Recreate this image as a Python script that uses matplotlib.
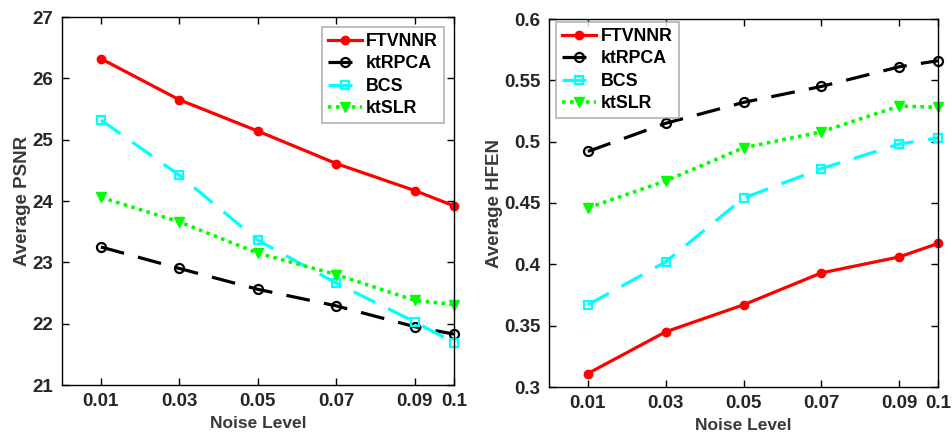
import matplotlib
matplotlib.use("Agg")
import matplotlib.pyplot as plt

plt.rcParams['font.family'] = ['Liberation Sans', 'DejaVu Sans']
plt.rcParams['font.weight'] = 'bold'

noise = [0.01, 0.03, 0.05, 0.07, 0.09, 0.1]
xtick_labels = ['0.01', '0.03', '0.05', '0.07', '0.09', '0.1']
methods = ['FTVNNR', 'ktRPCA', 'BCS', 'ktSLR']

psnr_ftvnnr = [26.32, 25.65, 25.14, 24.61, 24.17, 23.92]
psnr_ktrpca = [23.25, 22.90, 22.56, 22.29, 21.95, 21.83]
psnr_bcs = [25.32, 24.42, 23.36, 22.66, 22.03, 21.69]
psnr_ktslr = [24.06, 23.66, 23.15, 22.80, 22.38, 22.31]

hfen_ftvnnr = [0.311, 0.345, 0.367, 0.393, 0.406, 0.417]
hfen_ktrpca = [0.492, 0.515, 0.532, 0.545, 0.561, 0.566]
hfen_bcs = [0.367, 0.402, 0.454, 0.478, 0.498, 0.503]
hfen_ktslr = [0.446, 0.468, 0.495, 0.508, 0.529, 0.528]

styles = {
    'FTVNNR': dict(color='#ff0000', linestyle='-', linewidth=2.3, marker='o',
                   markersize=6, markerfacecolor='#ff0000', markeredgecolor='#ff0000'),
    'ktRPCA': dict(color='black', linestyle=(0, (7.5, 4.5)), linewidth=2.3, marker='o',
                   markersize=6.5, markerfacecolor='none', markeredgecolor='black',
                   markeredgewidth=1.6),
    'BCS': dict(color='#00ffff', linestyle=(0, (7.5, 4.5)), linewidth=2.3, marker='s',
                markersize=6, markerfacecolor='none', markeredgecolor='#00ffff',
                markeredgewidth=1.6),
    'ktSLR': dict(color='#00ff00', linestyle=(0, (1, 1.2)), linewidth=2.6, marker='v',
                  markersize=7.5, markerfacecolor='#00ff00', markeredgecolor='#00ff00'),
}

TEXT = '#262626'

fig = plt.figure(figsize=(9.52, 4.37), dpi=100)
ax1 = fig.add_axes([61.7 / 952, 1 - 385 / 437, (454 - 61.7) / 952, (385 - 17) / 437])
ax2 = fig.add_axes([549 / 952, 1 - 387 / 437, (938 - 549) / 952, (387 - 19) / 437])


def style_axes(ax):
    ax.tick_params(direction='in', top=True, right=True, length=5, width=1,
                   labelsize=13.5, pad=6, labelcolor=TEXT)
    for s in ax.spines.values():
        s.set_linewidth(1)
    ax.set_xlim(0, 0.1)
    ax.set_xticks(noise)
    ax.set_xticklabels(xtick_labels)
    for lab in ax.get_xticklabels() + ax.get_yticklabels():
        lab.set_fontweight('bold')
    ax.set_xlabel('Noise Level', fontsize=12.5, fontweight='bold', color='#3a3a3a', labelpad=4)


def add_legend(ax, loc, anchor):
    leg = ax.legend(loc=loc, bbox_to_anchor=anchor, frameon=True, fancybox=False,
                    edgecolor='#a0a0a0', handlelength=1.9, handletextpad=0.25,
                    borderpad=0.35, labelspacing=0.3, borderaxespad=0,
                    prop={'weight': 'bold', 'size': 12.8})
    leg.get_frame().set_linewidth(1.2)
    return leg


for name, vals in zip(methods, [psnr_ftvnnr, psnr_ktrpca, psnr_bcs, psnr_ktslr]):
    ax1.plot(noise, vals, label=name, clip_on=False, **styles[name])
ax1.set_ylim(21, 27)
ax1.set_yticks([21, 22, 23, 24, 25, 26, 27])
style_axes(ax1)
ax1.set_ylabel('Average PSNR', fontsize=13.5, fontweight='bold', color='#3a3a3a', labelpad=1)
add_legend(ax1, 'upper right', (0.975, 0.973))

for name, vals in zip(methods, [hfen_ftvnnr, hfen_ktrpca, hfen_bcs, hfen_ktslr]):
    ax2.plot(noise, vals, label=name, clip_on=False, **styles[name])
ax2.set_ylim(0.3, 0.6)
ax2.set_yticks([0.3, 0.35, 0.4, 0.45, 0.5, 0.55, 0.6])
ax2.set_yticklabels(['0.3', '0.35', '0.4', '0.45', '0.5', '0.55', '0.6'])
style_axes(ax2)
ax2.set_ylabel('Average HFEN', fontsize=13.5, fontweight='bold', color='#3a3a3a', labelpad=1)
add_legend(ax2, 'upper left', (0.018, 0.992))

fig.savefig('out.png', dpi=100)
